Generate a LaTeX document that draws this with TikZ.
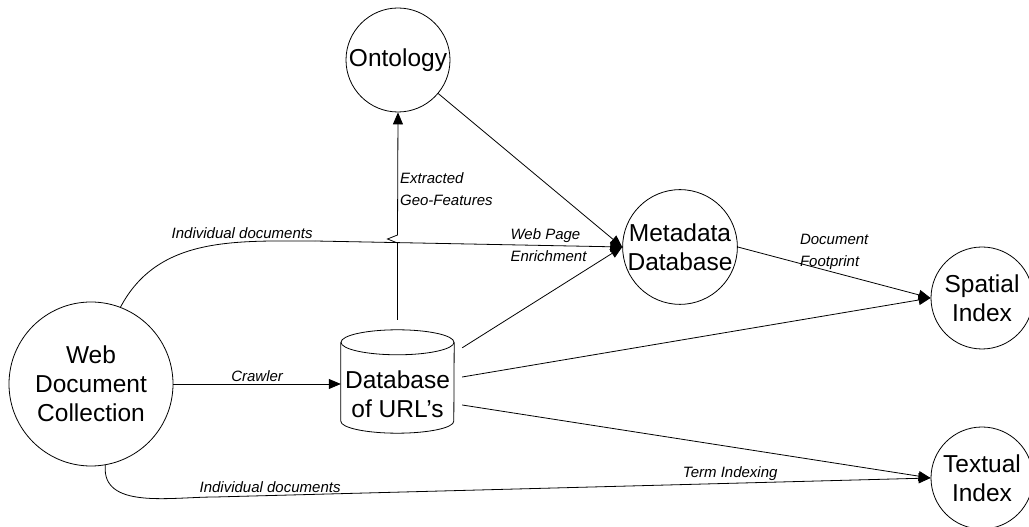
\documentclass[tikz,border=0pt]{standalone}
\usepackage{fontspec}
\setmainfont{Liberation Sans}
\usetikzlibrary{arrows.meta}

\tikzset{
  proc/.style={circle, draw, line width=0.8pt, inner sep=0pt, align=center, font=\fontsize{24.5}{29}\selectfont},
  store/.style={inner sep=0pt, minimum width=113pt, minimum height=78pt, align=center, font=\fontsize{24.5}{29}\selectfont},
  flow/.style={line width=0.8pt, -{Triangle[length=12pt,width=10pt]}},
  line/.style={line width=0.8pt},
  lbl/.style={font=\fontsize{15}{22}\selectfont\itshape, align=left, inner sep=2pt}
}

\begin{document}
\begin{tikzpicture}[x=1pt,y=1pt]
        \useasboundingbox (0,0) rectangle (1029,527);
        % processes
        \node[proc, minimum size=164pt] (web) at (91,143) {Web\\Document\\Collection};
        \node[proc, minimum size=104pt] (onto) at (398,467) {Ontology};
        \node[proc, minimum size=112pt] (meta) at (680,280) {Metadata\\Database};
        \node[proc, minimum size=102pt] (spatial) at (982,229) {Spatial\\Index};
        \node[proc, minimum size=102pt] (textual) at (982,49) {Textual\\Index};
        % url store
        \node[store] (urls) at (397.5,133) {Database\\of URL's};
        \draw[line] ([yshift=12.5]urls.north west) -- ([yshift=12]urls.south west)
            arc[start angle=180, end angle=360, x radius=56.5pt, y radius=12pt]
            -- ([yshift=12.5]urls.north east);
        \draw[line] ([yshift=12.5]urls.north) ellipse[x radius=56.5pt, y radius=12.5pt];
        % flows
        \draw[flow] (web.east) -- (web.east -| urls.west) node[lbl, midway, above] {Crawler};
        \coordinate (jump) at (397.5,288);
        \draw[flow] ([yshift=35]urls.north) -- ([yshift=-4]jump) -- ([xshift=-10]jump) -- ([yshift=4]jump)
            -- (onto.south) node[lbl, pos=0.37, anchor=west] {Extracted\\Geo-Features};
        \coordinate (topbend) at (315,286);
        \draw[line] (web.69) to[out=62, in=180] node[lbl, pos=1, anchor=south east] {Individual documents} (topbend);
        \draw[flow] (topbend) -- (meta.west) node[lbl, pos=0.76] {Web Page\\Enrichment};
        \draw[flow] (onto) -- (meta.west);
        \draw[flow] ([xshift=8,yshift=7]urls.north east) -- (meta.west);
        \draw[flow] (meta.east) -- (spatial.west) node[lbl, midway, above] {Document\\Footprint};
        \draw[flow] ([xshift=8,yshift=17]urls.east) -- (spatial.west);
        \draw[flow] ([xshift=8,yshift=-11]urls.east) -- (textual.west);
        \coordinate (botbend) at (215,30);
        \draw[line] (web.-80) to[out=-95, in=180] (botbend);
        \draw[flow] (botbend) -- (textual.west) node[lbl, pos=0.077, above] {Individual documents}
            node[lbl, pos=0.72, above] {Term Indexing};
\end{tikzpicture}
\end{document}
